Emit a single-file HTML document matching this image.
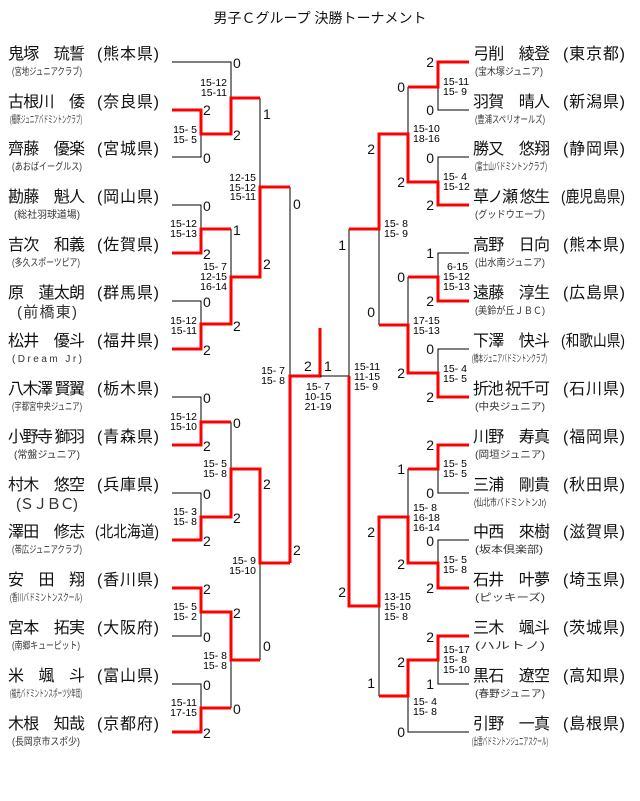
<!DOCTYPE html>
<html><head><meta charset="utf-8"><style>
html,body{margin:0;padding:0;background:#fff;}
svg{display:block;font-family:"Liberation Sans","Noto Sans CJK JP",sans-serif;}
.n{font-size:16px;fill:#111;}
.p{font-size:16px;fill:#111;}
.s{font-size:10px;fill:#333;}
.sc{font-size:14px;fill:#111;}
.t{font-size:10.5px;fill:#000;}
.k{stroke:#000;stroke-width:1;fill:none;}
.r{stroke:#f00;stroke-width:3;fill:none;}
</style></head><body>
<svg width="640" height="801" viewBox="0 0 640 801" xmlns="http://www.w3.org/2000/svg">
<text x="320" y="23" text-anchor="middle" style="font-size:14px" fill="#111">男子Ｃグループ 決勝トーナメント</text>

<!-- LEFT NAMES -->
<g class="n">
<text x="8" y="59" textLength="77" lengthAdjust="spacing">鬼塚　琉誓</text>
<text x="8" y="107" textLength="77" lengthAdjust="spacing">古根川　倭</text>
<text x="8" y="154" textLength="77" lengthAdjust="spacing">齊藤　優楽</text>
<text x="8" y="202" textLength="77" lengthAdjust="spacing">勘藤　魁人</text>
<text x="8" y="250" textLength="77" lengthAdjust="spacing">吉次　和義</text>
<text x="8" y="298" textLength="77" lengthAdjust="spacing">原　蓮太朗</text>
<text x="8" y="346" textLength="77" lengthAdjust="spacing">松井　優斗</text>
<text x="8" y="394" textLength="77" lengthAdjust="spacing">八木澤 賢翼</text>
<text x="8" y="442" textLength="77" lengthAdjust="spacing">小野寺 獅羽</text>
<text x="8" y="490" textLength="77" lengthAdjust="spacing">村木　悠空</text>
<text x="8" y="537" textLength="77" lengthAdjust="spacing">澤田　修志</text>
<text x="8" y="585" textLength="77" lengthAdjust="spacing">安　田　翔</text>
<text x="8" y="633" textLength="77" lengthAdjust="spacing">宮本　拓実</text>
<text x="8" y="681" textLength="77" lengthAdjust="spacing">米　颯　斗</text>
<text x="8" y="729" textLength="77" lengthAdjust="spacing">木根　知哉</text>
</g>
<g class="p">
<text x="97" y="59" textLength="62" lengthAdjust="spacing">(熊本県)</text>
<text x="97" y="107" textLength="62" lengthAdjust="spacing">(奈良県)</text>
<text x="97" y="154" textLength="62" lengthAdjust="spacing">(宮城県)</text>
<text x="97" y="202" textLength="62" lengthAdjust="spacing">(岡山県)</text>
<text x="97" y="250" textLength="62" lengthAdjust="spacing">(佐賀県)</text>
<text x="97" y="298" textLength="62" lengthAdjust="spacing">(群馬県)</text>
<text x="97" y="346" textLength="62" lengthAdjust="spacing">(福井県)</text>
<text x="97" y="394" textLength="62" lengthAdjust="spacing">(栃木県)</text>
<text x="97" y="442" textLength="62" lengthAdjust="spacing">(青森県)</text>
<text x="97" y="490" textLength="62" lengthAdjust="spacing">(兵庫県)</text>
<text x="95" y="537" textLength="64" lengthAdjust="spacingAndGlyphs">(北北海道)</text>
<text x="97" y="585" textLength="62" lengthAdjust="spacing">(香川県)</text>
<text x="97" y="633" textLength="62" lengthAdjust="spacing">(大阪府)</text>
<text x="97" y="681" textLength="62" lengthAdjust="spacing">(富山県)</text>
<text x="97" y="729" textLength="62" lengthAdjust="spacing">(京都府)</text>
</g>
<g class="s">
<text x="12" y="75" textLength="70" lengthAdjust="spacingAndGlyphs">(宮地ジュニアクラブ)</text>
<text x="10" y="123" textLength="72" lengthAdjust="spacingAndGlyphs">(橿原ジュニアバドミントンクラブ)</text>
<text x="12" y="170" textLength="70" lengthAdjust="spacingAndGlyphs">(あおばイーグルス)</text>
<text x="14" y="218" textLength="66" lengthAdjust="spacingAndGlyphs">(総社羽球道場)</text>
<text x="12" y="266" textLength="68" lengthAdjust="spacingAndGlyphs">(多久スポーツピア)</text>
<text x="17" y="317" style="font-size:15px" textLength="60" lengthAdjust="spacing">(前橋東)</text>
<text x="12" y="362" textLength="70" lengthAdjust="spacing">(Dream Jr)</text>
<text x="12" y="410" textLength="70" lengthAdjust="spacingAndGlyphs">(宇都宮中央ジュニア)</text>
<text x="14" y="458" textLength="66" lengthAdjust="spacingAndGlyphs">(常盤ジュニア)</text>
<text x="16" y="509" style="font-size:15px" textLength="62" lengthAdjust="spacing">(ＳＪＢＣ)</text>
<text x="12" y="553" textLength="70" lengthAdjust="spacingAndGlyphs">(帯広ジュニアクラブ)</text>
<text x="10" y="601" textLength="72" lengthAdjust="spacingAndGlyphs">(香川バドミントンスクール)</text>
<text x="12" y="649" textLength="68" lengthAdjust="spacingAndGlyphs">(南郷キューピット)</text>
<text x="10" y="697" textLength="72" lengthAdjust="spacingAndGlyphs">(福光バドミントンスポーツ少年団)</text>
<text x="12" y="745" textLength="68" lengthAdjust="spacingAndGlyphs">(長岡京市スポ少)</text>
</g>

<!-- RIGHT NAMES -->
<g class="n">
<text x="473" y="59" textLength="77" lengthAdjust="spacing">弓削　綾登</text>
<text x="473" y="107" textLength="77" lengthAdjust="spacing">羽賀　晴人</text>
<text x="473" y="154" textLength="77" lengthAdjust="spacing">勝又　悠翔</text>
<text x="473" y="202" textLength="77" lengthAdjust="spacing">草ノ瀬 悠生</text>
<text x="473" y="250" textLength="77" lengthAdjust="spacing">高野　日向</text>
<text x="473" y="298" textLength="77" lengthAdjust="spacing">遠藤　淳生</text>
<text x="473" y="346" textLength="77" lengthAdjust="spacing">下澤　快斗</text>
<text x="473" y="394" textLength="77" lengthAdjust="spacing">折池 祝千可</text>
<text x="473" y="442" textLength="77" lengthAdjust="spacing">川野　寿真</text>
<text x="473" y="490" textLength="77" lengthAdjust="spacing">三浦　剛貴</text>
<text x="473" y="537" textLength="77" lengthAdjust="spacing">中西　來樹</text>
<text x="473" y="585" textLength="77" lengthAdjust="spacing">石井　叶夢</text>
<text x="473" y="633" textLength="77" lengthAdjust="spacing">三木　颯斗</text>
<text x="473" y="681" textLength="77" lengthAdjust="spacing">黒石　遼空</text>
<text x="473" y="729" textLength="77" lengthAdjust="spacing">引野　一真</text>
</g>
<g class="p">
<text x="563" y="59" textLength="62" lengthAdjust="spacing">(東京都)</text>
<text x="563" y="107" textLength="62" lengthAdjust="spacing">(新潟県)</text>
<text x="563" y="154" textLength="62" lengthAdjust="spacing">(静岡県)</text>
<text x="561" y="202" textLength="64" lengthAdjust="spacingAndGlyphs">(鹿児島県)</text>
<text x="563" y="250" textLength="62" lengthAdjust="spacing">(熊本県)</text>
<text x="563" y="298" textLength="62" lengthAdjust="spacing">(広島県)</text>
<text x="561" y="346" textLength="64" lengthAdjust="spacingAndGlyphs">(和歌山県)</text>
<text x="563" y="394" textLength="62" lengthAdjust="spacing">(石川県)</text>
<text x="563" y="442" textLength="62" lengthAdjust="spacing">(福岡県)</text>
<text x="563" y="490" textLength="62" lengthAdjust="spacing">(秋田県)</text>
<text x="563" y="537" textLength="62" lengthAdjust="spacing">(滋賀県)</text>
<text x="563" y="585" textLength="62" lengthAdjust="spacing">(埼玉県)</text>
<text x="563" y="633" textLength="62" lengthAdjust="spacing">(茨城県)</text>
<text x="563" y="681" textLength="62" lengthAdjust="spacing">(高知県)</text>
<text x="563" y="729" textLength="62" lengthAdjust="spacing">(島根県)</text>
</g>
<g class="s">
<text x="475" y="75" textLength="68" lengthAdjust="spacingAndGlyphs">(宝木塚ジュニア)</text>
<text x="475" y="123" textLength="70" lengthAdjust="spacingAndGlyphs">(豊浦スペリオールズ)</text>
<text x="475" y="170" textLength="72" lengthAdjust="spacingAndGlyphs">(富士山バドミントンクラブ)</text>
<text x="475" y="218" textLength="70" lengthAdjust="spacingAndGlyphs">(グッドウエーブ)</text>
<text x="475" y="266" textLength="70" lengthAdjust="spacingAndGlyphs">(出水南ジュニア)</text>
<text x="475" y="314" textLength="70" lengthAdjust="spacingAndGlyphs">(美鈴が丘ＪＢＣ)</text>
<text x="472" y="362" textLength="75" lengthAdjust="spacingAndGlyphs">(橋本ジュニアバドミントンクラブ)</text>
<text x="475" y="410" textLength="70" lengthAdjust="spacingAndGlyphs">(中央ジュニア)</text>
<text x="475" y="458" textLength="70" lengthAdjust="spacingAndGlyphs">(岡垣ジュニア)</text>
<text x="474" y="506" textLength="72" lengthAdjust="spacingAndGlyphs">(仙北市バドミントンJr)</text>
<text x="475" y="553" textLength="68" lengthAdjust="spacingAndGlyphs">(坂本倶楽部)</text>
<text x="475" y="601" textLength="70" lengthAdjust="spacingAndGlyphs">(ピッキーズ)</text>
<text x="475" y="649" textLength="70" lengthAdjust="spacingAndGlyphs">(ハルトノ)</text>
<text x="475" y="697" textLength="70" lengthAdjust="spacingAndGlyphs">(春野ジュニア)</text>
<text x="472" y="745" textLength="76" lengthAdjust="spacingAndGlyphs">(出雲バドミントンジュニアスクール)</text>
</g>

<!-- LEFT LINES black -->
<g class="k">
<path d="M172 62H231V98"/>
<path d="M172 157H201V134"/>
<path d="M172 205H201V229"/>
<path d="M172 301H201V324"/>
<path d="M231 229V277"/>
<path d="M260 98V187"/>
<path d="M290 187V376"/>
<path d="M172 397H201V422"/>
<path d="M172 493H201V517"/>
<path d="M231 422V469"/>
<path d="M172 636H201V612"/>
<path d="M172 684H201V708"/>
<path d="M231 660V708"/>
<path d="M260 563V660"/>
</g>
<g class="r">
<path d="M172 110H201V134H231V98H260"/>
<path d="M172 253H201V229H231"/>
<path d="M172 349H201V324H231V277H260V187H290"/>
<path d="M172 445H201V422H231"/>
<path d="M172 540H201V517H231V469H260V563H290"/>
<path d="M172 588H201V612H231V660H260"/>
<path d="M172 732H201V708H231"/>
<path d="M290 563V376H320V328"/>
</g>

<!-- RIGHT LINES -->
<g class="k">
<path d="M469 110H438V87"/>
<path d="M408 87V134"/>
<path d="M469 157H438V182"/>
<path d="M379 229V325"/>
<path d="M469 253H438V277"/>
<path d="M408 277V325"/>
<path d="M469 349H438V373"/>
<path d="M349 229V376H320"/>
<path d="M469 493H438V469"/>
<path d="M408 469V517"/>
<path d="M469 540H438V563"/>
<path d="M469 684H438V660"/>
<path d="M469 732H408V696"/>
<path d="M379 606V696"/>
</g>
<g class="r">
<path d="M469 62H438V87H408"/>
<path d="M469 205H438V182H408V134H379V229H349"/>
<path d="M469 301H438V277H408"/>
<path d="M469 397H438V373H408V325H379"/>
<path d="M469 445H438V469H408"/>
<path d="M469 588H438V563H408V517H379V606H349V376"/>
<path d="M469 636H438V660H408V696H379"/>
</g>

<!-- SCORES -->
<g class="sc" dominant-baseline="central">
<text x="203" y="110">2</text><text x="203" y="158">0</text><text x="203" y="206">0</text><text x="203" y="254">2</text>
<text x="203" y="302">0</text><text x="203" y="350">2</text><text x="203" y="398">0</text><text x="203" y="446">2</text>
<text x="203" y="494">0</text><text x="203" y="541">2</text><text x="203" y="589">2</text><text x="203" y="637">0</text>
<text x="203" y="685">0</text><text x="203" y="733">2</text>
<text x="233" y="63">0</text><text x="233" y="135">2</text><text x="233" y="230">1</text><text x="233" y="326">2</text>
<text x="233" y="423">0</text><text x="233" y="518">2</text><text x="233" y="613">2</text><text x="233" y="709">0</text>
<text x="263" y="114">1</text><text x="263" y="264">2</text><text x="263" y="484">2</text><text x="263" y="646">0</text>
<text x="293" y="204">0</text><text x="293" y="550">2</text>
<text x="304" y="366">2</text><text x="324" y="366">1</text>
<g text-anchor="end">
<text x="434" y="62">2</text><text x="434" y="110">0</text><text x="434" y="158">0</text><text x="434" y="205">2</text>
<text x="434" y="253">1</text><text x="434" y="301">2</text><text x="434" y="349">0</text><text x="434" y="397">2</text>
<text x="434" y="445">2</text><text x="434" y="493">0</text><text x="434" y="541">0</text><text x="434" y="588">2</text>
<text x="434" y="637">2</text><text x="434" y="684">1</text>
<text x="405" y="87">0</text><text x="405" y="182">2</text><text x="405" y="277">0</text><text x="405" y="373">2</text>
<text x="405" y="469">1</text><text x="405" y="564">2</text><text x="405" y="662">2</text><text x="405" y="732">0</text>
<text x="375" y="149">2</text><text x="375" y="312">0</text><text x="375" y="532">2</text><text x="375" y="683">1</text>
<text x="346" y="245">1</text><text x="346" y="592">2</text>
</g>
</g>

<!-- GAME SCORES -->
<g class="t" dominant-baseline="central">
<g text-anchor="end">
<text x="197" y="130">15- 5</text><text x="197" y="140">15- 5</text>
<text x="197" y="224">15-12</text><text x="197" y="234">15-13</text>
<text x="197" y="321">15-12</text><text x="197" y="331">15-11</text>
<text x="197" y="417">15-12</text><text x="197" y="427">15-10</text>
<text x="197" y="512">15- 3</text><text x="197" y="522">15- 8</text>
<text x="197" y="607">15- 5</text><text x="197" y="617">15- 2</text>
<text x="197" y="703">15-11</text><text x="197" y="713">17-15</text>
<text x="227" y="83">15-12</text><text x="227" y="93">15-11</text>
<text x="227" y="267">15- 7</text><text x="227" y="277">12-15</text><text x="227" y="287">16-14</text>
<text x="227" y="464">15- 5</text><text x="227" y="474">15- 8</text>
<text x="227" y="656">15- 8</text><text x="227" y="666">15- 8</text>
<text x="256" y="178">12-15</text><text x="256" y="188">15-12</text><text x="256" y="197">15-11</text>
<text x="256" y="561">15- 9</text><text x="256" y="571">15-10</text>
<text x="285" y="371">15- 7</text><text x="285" y="381">15- 8</text>
</g>
<g text-anchor="middle">
<text x="318" y="387">15- 7</text><text x="318" y="397">10-15</text><text x="318" y="407">21-19</text>
</g>
<text x="443" y="82">15-11</text><text x="443" y="92">15- 9</text>
<text x="443" y="177">15- 4</text><text x="443" y="187">15-12</text>
<text x="447" y="267">6-15</text><text x="443" y="277">15-12</text><text x="443" y="287">15-13</text>
<text x="443" y="369">15- 4</text><text x="443" y="379">15- 5</text>
<text x="443" y="464">15- 5</text><text x="443" y="474">15- 5</text>
<text x="443" y="560">15- 5</text><text x="443" y="570">15- 8</text>
<text x="443" y="650">15-17</text><text x="443" y="660">15- 8</text><text x="443" y="670">15-10</text>
<text x="413" y="129">15-10</text><text x="413" y="139">18-16</text>
<text x="413" y="321">17-15</text><text x="413" y="331">15-13</text>
<text x="413" y="508">15- 8</text><text x="413" y="518">16-18</text><text x="413" y="528">16-14</text>
<text x="413" y="702">15- 4</text><text x="413" y="712">15- 8</text>
<text x="384" y="224">15- 8</text><text x="384" y="234">15- 9</text>
<text x="384" y="597">13-15</text><text x="384" y="607">15-10</text><text x="384" y="617">15- 8</text>
<text x="354" y="367">15-11</text><text x="354" y="377">11-15</text><text x="354" y="387">15- 9</text>
</g>
</svg>
</body></html>
